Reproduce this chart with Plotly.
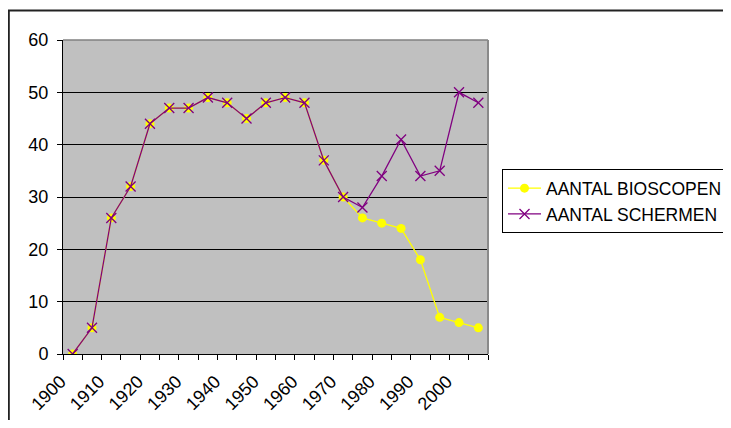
import plotly.graph_objects as go

years = [1900, 1905, 1910, 1915, 1920, 1925, 1930, 1935, 1940, 1945, 1950,
         1955, 1960, 1965, 1970, 1975, 1980, 1985, 1990, 1995, 2000, 2005]
bioscopen = [0, 5, 26, 32, 44, 47, 47, 49, 48, 45, 48,
             49, 48, 37, 30, 26, 25, 24, 18, 7, 6, 5]
schermen = [0, 5, 26, 32, 44, 47, 47, 49, 48, 45, 48,
            49, 48, 37, 30, 28, 34, 41, 34, 35, 50, 48]
tick_years = [1900, 1910, 1920, 1930, 1940, 1950, 1960, 1970, 1980, 1990, 2000]
tick_labels = [str(y) for y in tick_years]

OFF = 8  # page body margin
W, H = 731 - 2 * OFF, 428 - 2 * OFF
L, R, T, B = 63 - OFF, 488 - OFF, 39.5 - OFF, 354 - OFF
FONT = "Liberation Sans, Arial, sans-serif"
FS = 18

fig = go.Figure()
fig.add_trace(go.Scatter(
    x=years, y=bioscopen, name="AANTAL BIOSCOPEN", mode="lines+markers",
    line=dict(color="#FFFF00", width=1.3),
    marker=dict(symbol="circle", size=9, color="#FFFF00", line=dict(width=0)),
))
fig.add_trace(go.Scatter(
    x=years, y=schermen, name="AANTAL SCHERMEN", mode="lines+markers",
    line=dict(color="#800080", width=1.3),
    marker=dict(symbol="x-thin", size=10, color="#800080",
                line=dict(color="#800080", width=1.3)),
))

def px_x(p):
    return (p - OFF - L) / (R - L)

def px_y(p):
    return (B - (p - OFF)) / (B - T)

shapes = [
    # outer chart border
    dict(type="rect", xref="paper", yref="paper",
         x0=px_x(8.8), x1=px_x(780), y0=px_y(480), y1=px_y(10),
         line=dict(color="#222222", width=2), fillcolor="rgba(0,0,0,0)"),
    # plot area frame top/right
    dict(type="line", xref="paper", yref="paper", x0=0, x1=1, y0=1, y1=1,
         line=dict(color="#808080", width=1.5)),
    dict(type="line", xref="paper", yref="paper", x0=1, x1=1, y0=0, y1=1,
         line=dict(color="#8a8a8a", width=2)),
]

fig.update_layout(
    width=W, height=H,
    margin=dict(l=L, r=W - R, t=T, b=H - B, pad=0, autoexpand=False),
    paper_bgcolor="white", plot_bgcolor="#C0C0C0",
    font=dict(family=FONT, size=FS, color="black"),
    shapes=shapes,
    showlegend=True,
    legend=dict(
        x=px_x(502), y=px_y(169), xanchor="left", yanchor="top",
        bordercolor="black", borderwidth=1, bgcolor="white",
        font=dict(family=FONT, size=17.5, color="black"),
        tracegroupgap=0, itemwidth=33,
    ),
)
fig.update_xaxes(
    range=[1897.5, 2007.5],
    tickmode="array", tickvals=tick_years, ticktext=tick_labels,
    tickangle=-45, ticks="", showgrid=False, zeroline=False,
    showline=True, linecolor="black", linewidth=1,
    tickfont=dict(family=FONT, size=FS, color="black"),
    ticklabelstandoff=9, ticklabelshift=-12,
    minor=dict(tickmode="linear", tick0=1897.5, dtick=5, ticks="outside",
               ticklen=5, tickcolor="black", tickwidth=1, showgrid=False),
)
fig.update_yaxes(
    range=[0, 60], dtick=10, tick0=0,
    ticks="outside", ticklen=5, tickcolor="black", tickwidth=1,
    showgrid=True, gridcolor="black", gridwidth=1, zeroline=False,
    showline=True, linecolor="black", linewidth=1,
    tickfont=dict(family=FONT, size=FS, color="black"),
    ticklabelstandoff=5,
)

fig.write_html("out.html")
